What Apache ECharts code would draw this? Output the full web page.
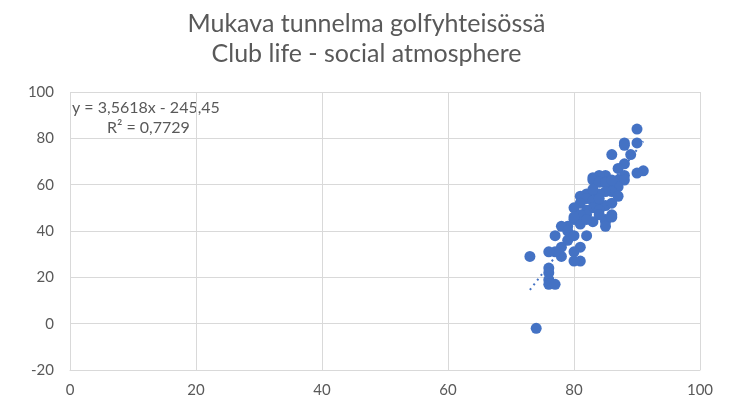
<!DOCTYPE html>
<html>
<head>
<meta charset="utf-8">
<script src="https://cdn.jsdelivr.net/npm/echarts@6/dist/echarts.min.js"></script>
<style>
  html, body { margin: 0; padding: 0; background: #fff; }
  #chart { width: 733px; height: 402px; }
</style>
</head>
<body>
<div id="chart"></div>
<script>
// club life vs. overall score
const xValues = [90, 88, 90, 88, 86, 89, 88, 87, 91, 90, 88, 87, 88, 86, 87, 85, 84, 83, 83, 84,
  85, 86, 85, 83, 82, 84, 81, 82, 83, 84, 85, 81, 80, 83, 82, 84, 86, 85, 82, 81,
  80, 81, 83, 85, 86, 79, 78, 82, 85, 77, 79, 78, 81, 80, 78, 81, 80, 77, 76, 73,
  76, 76, 76, 76, 77, 74, 84, 83, 80, 79, 80, 82, 84, 86, 86, 87];
const yValues = [84, 78, 78, 77, 73, 73, 69, 67, 66, 65, 64, 62, 62, 60, 59, 64, 64, 63, 62, 61,
  61, 57, 57, 57, 56, 56, 55, 54, 53, 52, 51, 52, 50, 50, 49, 49, 47, 45, 47, 47,
  45, 43, 44, 44, 46, 42, 42, 38, 42, 38, 36, 33, 33, 31, 29, 27, 27, 31, 31, 29,
  24, 22, 19, 17, 17, -2, 54, 58, 46, 40, 38, 45, 47, 52, 62, 55];
const xTicks = [0, 20, 40, 60, 80, 100];
const yTicks = [-20, 0, 20, 40, 60, 80, 100];
const slope = 3.5618;
const intercept = -245.45;
const r2 = 0.7729;

const points = xValues.map((x, i) => [x, yValues[i]]);
const xMin = Math.min(...xValues);
const xMax = Math.max(...xValues);
const trend = [[xMin, slope * xMin + intercept], [xMax, slope * xMax + intercept]];

const fmt = (v, d) => v.toFixed(d).replace('.', ',');

const myChart = echarts.init(document.getElementById('chart'));
const option = {
  animation: false,
  textStyle: { fontFamily: 'Lato, "Open Sans", sans-serif' },
  title: {
    text: 'Mukava tunnelma golfyhteisössä\nClub life - social atmosphere',
    left: 'center',
    top: 4,
    textStyle: {
      fontSize: 25,
      fontWeight: 'normal',
      color: '#595959',
      lineHeight: 30,
      fontFamily: 'Lato, sans-serif'
    }
  },
  grid: { left: 70, right: 33, top: 92, bottom: 32 },
  xAxis: {
    type: 'value',
    min: xTicks[0],
    max: xTicks[xTicks.length - 1],
    interval: 20,
    axisLine: { show: true, onZero: false, lineStyle: { color: '#d9d9d9' } },
    axisTick: { show: false },
    axisLabel: { color: '#595959', fontSize: 15, margin: 13 },
    splitLine: { lineStyle: { color: '#d9d9d9' } }
  },
  yAxis: {
    type: 'value',
    min: yTicks[0],
    max: yTicks[yTicks.length - 1],
    interval: 20,
    axisLine: { show: false },
    axisTick: { show: false },
    axisLabel: { color: '#595959', fontSize: 15, margin: 16 },
    splitLine: { lineStyle: { color: '#d9d9d9' } }
  },
  graphic: [
    {
      type: 'text',
      left: 72,
      top: 100,
      style: {
        text: 'y = ' + fmt(slope, 4) + 'x - ' + fmt(-intercept, 2),
        fill: '#595959',
        font: '16px Lato, sans-serif'
      }
    },
    {
      type: 'text',
      left: 107,
      top: 120,
      style: {
        text: 'R² = ' + fmt(r2, 4),
        fill: '#595959',
        font: '16px Lato, sans-serif'
      }
    }
  ],
  series: [
    {
      type: 'line',
      data: trend,
      symbol: 'none',
      z: 1,
      lineStyle: { color: '#4472c4', width: 2, type: [2, 4] }
    },
    {
      type: 'scatter',
      data: points,
      symbolSize: 11,
      z: 2,
      itemStyle: { color: '#4472c4', opacity: 1 }
    }
  ]
};
myChart.setOption(option);
</script>
</body>
</html>
